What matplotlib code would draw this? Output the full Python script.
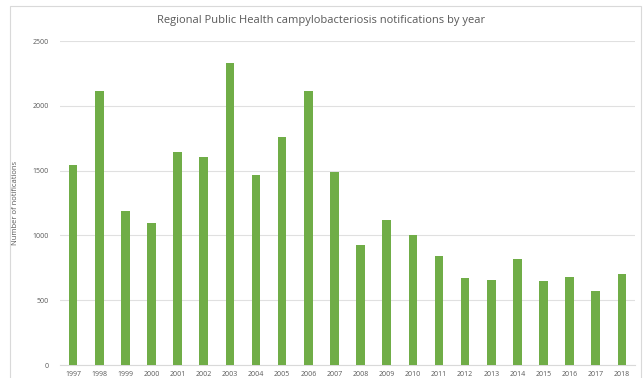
import matplotlib.pyplot as plt
from matplotlib.patches import Rectangle

years = [str(y) for y in range(1997, 2019)]
notifications = [1540, 2115, 1190, 1092, 1640, 1602, 2330, 1468, 1758, 2115, 1490,
                 924, 1116, 1004, 841, 674, 658, 820, 651, 680, 574, 704]

plt.rcParams['font.family'] = ['Open Sans', 'DejaVu Sans']

fig = plt.figure(figsize=(6.43, 3.78), dpi=100)
# light chart-area border (bottom runs off the picture)
fig.patches.append(Rectangle((10 / 643, -0.1), (641 - 10) / 643, 1.1 - 6 / 378,
                             transform=fig.transFigure, fill=False,
                             edgecolor='#d9d9d9', linewidth=0.8))

ax = fig.add_axes([60 / 643, 1 - 365 / 378, 575 / 643, 324 / 378])
x = range(len(years))
ax.bar(x, notifications, width=0.33, color='#70ad47', zorder=3)
ax.set_xlim(-0.5, len(years) - 0.5)
ax.set_ylim(0, 2500)
ax.set_yticks([0, 500, 1000, 1500, 2000, 2500])
ax.set_xticks(list(x))
ax.set_xticklabels(years)
ax.tick_params(axis='both', length=0, labelsize=5, labelcolor='#595959')
ax.tick_params(axis='y', pad=8)
ax.tick_params(axis='x', pad=4)
ax.grid(axis='y', color='#e0e0e0', linewidth=0.8, zorder=0)
for s in ['top', 'right', 'left']:
    ax.spines[s].set_visible(False)
ax.spines['bottom'].set_color('#d9d9d9')
ax.spines['bottom'].set_linewidth(0.8)

ax.set_ylabel('Number of notifications', fontsize=5.5, color='#595959', labelpad=10)
fig.text(321 / 643, 1 - 20 / 378, 'Regional Public Health campylobacteriosis notifications by year',
         ha='center', va='center', fontsize=8, color='#595959')

fig.savefig('out.png', dpi=100)
